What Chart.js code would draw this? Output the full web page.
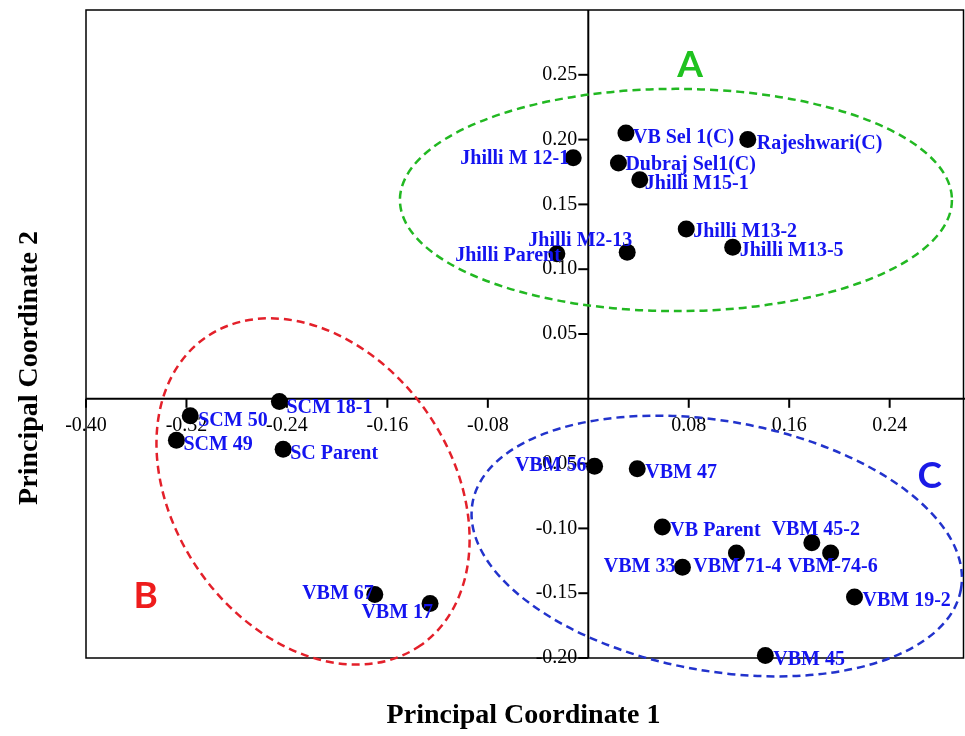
<!DOCTYPE html>
<html>
<head>
<meta charset="utf-8">
<script src="https://cdn.jsdelivr.net/npm/chart.js@4.4.1/dist/chart.umd.min.js"></script>
<style>
  html, body { margin: 0; padding: 0; background: #fff; }
  #wrap { width: 965px; height: 736px; }
</style>
</head>
<body>
<div id="wrap"><canvas id="pcoa" width="965" height="736"></canvas></div>
<script>
// genotypes and their PCoA coordinates
const names = [
  'VB Sel 1(C)', 'Rajeshwari(C)', 'Jhilli M 12-1', 'Dubraj Sel1(C)', 'Jhilli M15-1',
  'Jhilli M13-2', 'Jhilli M13-5', 'Jhilli M2-13', 'Jhilli Parent',
  'SCM 18-1', 'SCM 50', 'SCM 49', 'SC Parent', 'VBM 67', 'VBM 17',
  'VBM 56', 'VBM 47', 'VB Parent', 'VBM 45-2', 'VBM-74-6', 'VBM 71-4',
  'VBM 33', 'VBM 19-2', 'VBM 45'
];
const coord1 = [
  0.030, 0.127, -0.012, 0.024, 0.041,
  0.078, 0.115, 0.031, -0.025,
  -0.246, -0.317, -0.328, -0.243, -0.170, -0.126,
  0.005, 0.039, 0.059, 0.178, 0.193, 0.118,
  0.075, 0.212, 0.141
];
const coord2 = [
  0.205, 0.200, 0.186, 0.182, 0.169,
  0.131, 0.117, 0.113, 0.112,
  -0.002, -0.013, -0.032, -0.039, -0.151, -0.158,
  -0.052, -0.054, -0.099, -0.111, -0.119, -0.119,
  -0.130, -0.153, -0.198
];
const xTicks = [-0.40, -0.32, -0.24, -0.16, -0.08, 0.08, 0.16, 0.24];
const yTicks = [0.25, 0.20, 0.15, 0.10, 0.05, -0.05, -0.10, -0.15, -0.20];
const xTitle = 'Principal Coordinate 1';
const yTitle = 'Principal Coordinate 2';

// where each label sits relative to its dot: [dx, dy, align]
const labelPos = {
  'VB Sel 1(C)': [7, 5, 'left'],
  'Rajeshwari(C)': [9, 4, 'left'],
  'Jhilli M 12-1': [-4, 1, 'right'],
  'Dubraj Sel1(C)': [7, 2, 'left'],
  'Jhilli M15-1': [5, 4, 'left'],
  'Jhilli M13-2': [7, 3, 'left'],
  'Jhilli M13-5': [7, 4, 'left'],
  'Jhilli M2-13': [5, -12, 'right'],
  'Jhilli Parent': [4, 2, 'right'],
  'SCM 18-1': [7, 6, 'left'],
  'SCM 50': [8, 5, 'left'],
  'SCM 49': [7, 5, 'left'],
  'SC Parent': [7, 4, 'left'],
  'VBM 67': [-1, -1, 'right'],
  'VBM 17': [3, 9, 'right'],
  'VBM 56': [-8, 0, 'right'],
  'VBM 47': [8, 4, 'left'],
  'VB Parent': [8, 4, 'left'],
  'VBM 45-2': [4, -13, 'center'],
  'VBM-74-6': [2, 14, 'center'],
  'VBM 71-4': [1, 14, 'center'],
  'VBM 33': [-7, 0, 'right'],
  'VBM 19-2': [8, 4, 'left'],
  'VBM 45': [8, 4, 'left']
};

// cluster outlines (centre in data units, semi-axes in x units, rotation deg)
const groups = [
  { tag: 'A', cx: 0.0698, cy: 0.1534, a: 0.2198, b: 0.0885, rot: 0, line: '#22b822', text: '#1fc21f', tx: 0.081, ty: 0.2576 },
  { tag: 'B', cx: -0.2192, cy: -0.0715, a: 0.1495, b: 0.1105, rot: 55, line: '#e3202a', text: '#ee1c1c', tx: -0.3524, ty: -0.1522 },
  { tag: 'C', cx: 0.1023, cy: -0.1136, a: 0.1975, b: 0.0995, rot: 10, line: '#2233cc', text: '#1a1ae6', tx: 0.272, ty: -0.0596 }
];

const SERIF = "'Liberation Serif', 'Times New Roman', serif";

function strokeLine(ctx, x1, y1, x2, y2) {
  ctx.beginPath();
  ctx.moveTo(x1, y1);
  ctx.lineTo(x2, y2);
  ctx.stroke();
}

const pcoaPlugin = {
  id: 'pcoa',
  beforeDatasetsDraw(chart) {
    const { ctx, chartArea: a, scales: { x, y } } = chart;
    const x0 = x.getPixelForValue(0), y0 = y.getPixelForValue(0);
    ctx.save();

    // frame
    ctx.strokeStyle = '#000';
    ctx.lineWidth = 1.5;
    ctx.strokeRect(a.left, a.top, a.right - a.left - 1.5, a.bottom - a.top);

    // axes through the origin
    ctx.lineWidth = 2;
    strokeLine(ctx, a.left, y0, a.right, y0);
    strokeLine(ctx, x0, a.top, x0, a.bottom);

    // ticks + labels
    ctx.fillStyle = '#000';
    ctx.font = '20px ' + SERIF;
    ctx.textAlign = 'center';
    ctx.textBaseline = 'middle';
    xTicks.forEach(v => {
      const px = x.getPixelForValue(v);
      strokeLine(ctx, px, y0, px, y0 + 9);
      ctx.fillText(v.toFixed(2), px, y0 + 27);
    });
    ctx.textAlign = 'right';
    yTicks.forEach(v => {
      const py = y.getPixelForValue(v);
      strokeLine(ctx, x0 - 10, py, x0, py);
      ctx.fillText(v.toFixed(2), x0 - 11, py);
    });

    // dashed cluster ellipses
    const sx = x.getPixelForValue(1) - x.getPixelForValue(0);
    ctx.lineWidth = 2.5;
    ctx.setLineDash([8, 5]);
    groups.forEach(g => {
      ctx.strokeStyle = g.line;
      ctx.beginPath();
      ctx.ellipse(x.getPixelForValue(g.cx), y.getPixelForValue(g.cy),
        g.a * sx, g.b * sx, g.rot * Math.PI / 180, 0, Math.PI * 2);
      ctx.stroke();
    });
    ctx.restore();
  },
  afterDatasetsDraw(chart) {
    const { ctx, chartArea: a, scales: { x, y } } = chart;
    ctx.save();

    // genotype labels
    ctx.fillStyle = '#1414f0';
    ctx.font = 'bold 20px ' + SERIF;
    ctx.textBaseline = 'middle';
    names.forEach((n, i) => {
      const p = labelPos[n] || [8, 4, 'left'];
      ctx.textAlign = p[2];
      ctx.fillText(n, x.getPixelForValue(coord1[i]) + p[0], y.getPixelForValue(coord2[i]) + p[1]);
    });

    // cluster letters
    ctx.font = "bold 37px Lato, 'Open Sans', sans-serif";
    ctx.textAlign = 'center';
    groups.forEach(g => {
      ctx.fillStyle = g.text;
      ctx.fillText(g.tag, x.getPixelForValue(g.tx), y.getPixelForValue(g.ty));
    });

    // axis titles
    ctx.fillStyle = '#000';
    ctx.font = 'bold 28px ' + SERIF;
    ctx.fillText(xTitle, (a.left + a.right) / 2 - 2, 716);
    ctx.translate(30, 368);
    ctx.rotate(-Math.PI / 2);
    ctx.fillText(yTitle, 0, 0);
    ctx.restore();
  }
};

new Chart(document.getElementById('pcoa'), {
  type: 'scatter',
  data: {
    datasets: [{
      data: names.map((n, i) => ({ x: coord1[i], y: coord2[i] })),
      backgroundColor: '#000',
      borderWidth: 0,
      pointRadius: 8.5,
      pointHoverRadius: 8.5,
      clip: false
    }]
  },
  options: {
    responsive: false,
    animation: false,
    layout: { autoPadding: false, padding: { left: 86, top: 10, right: 0, bottom: 78 } },
    scales: {
      x: { type: 'linear', min: -0.40, max: 0.30, display: false },
      y: { type: 'linear', min: -0.20, max: 0.30, display: false }
    },
    plugins: {
      legend: { display: false },
      tooltip: { enabled: false }
    }
  },
  plugins: [pcoaPlugin]
});
</script>
</body>
</html>
